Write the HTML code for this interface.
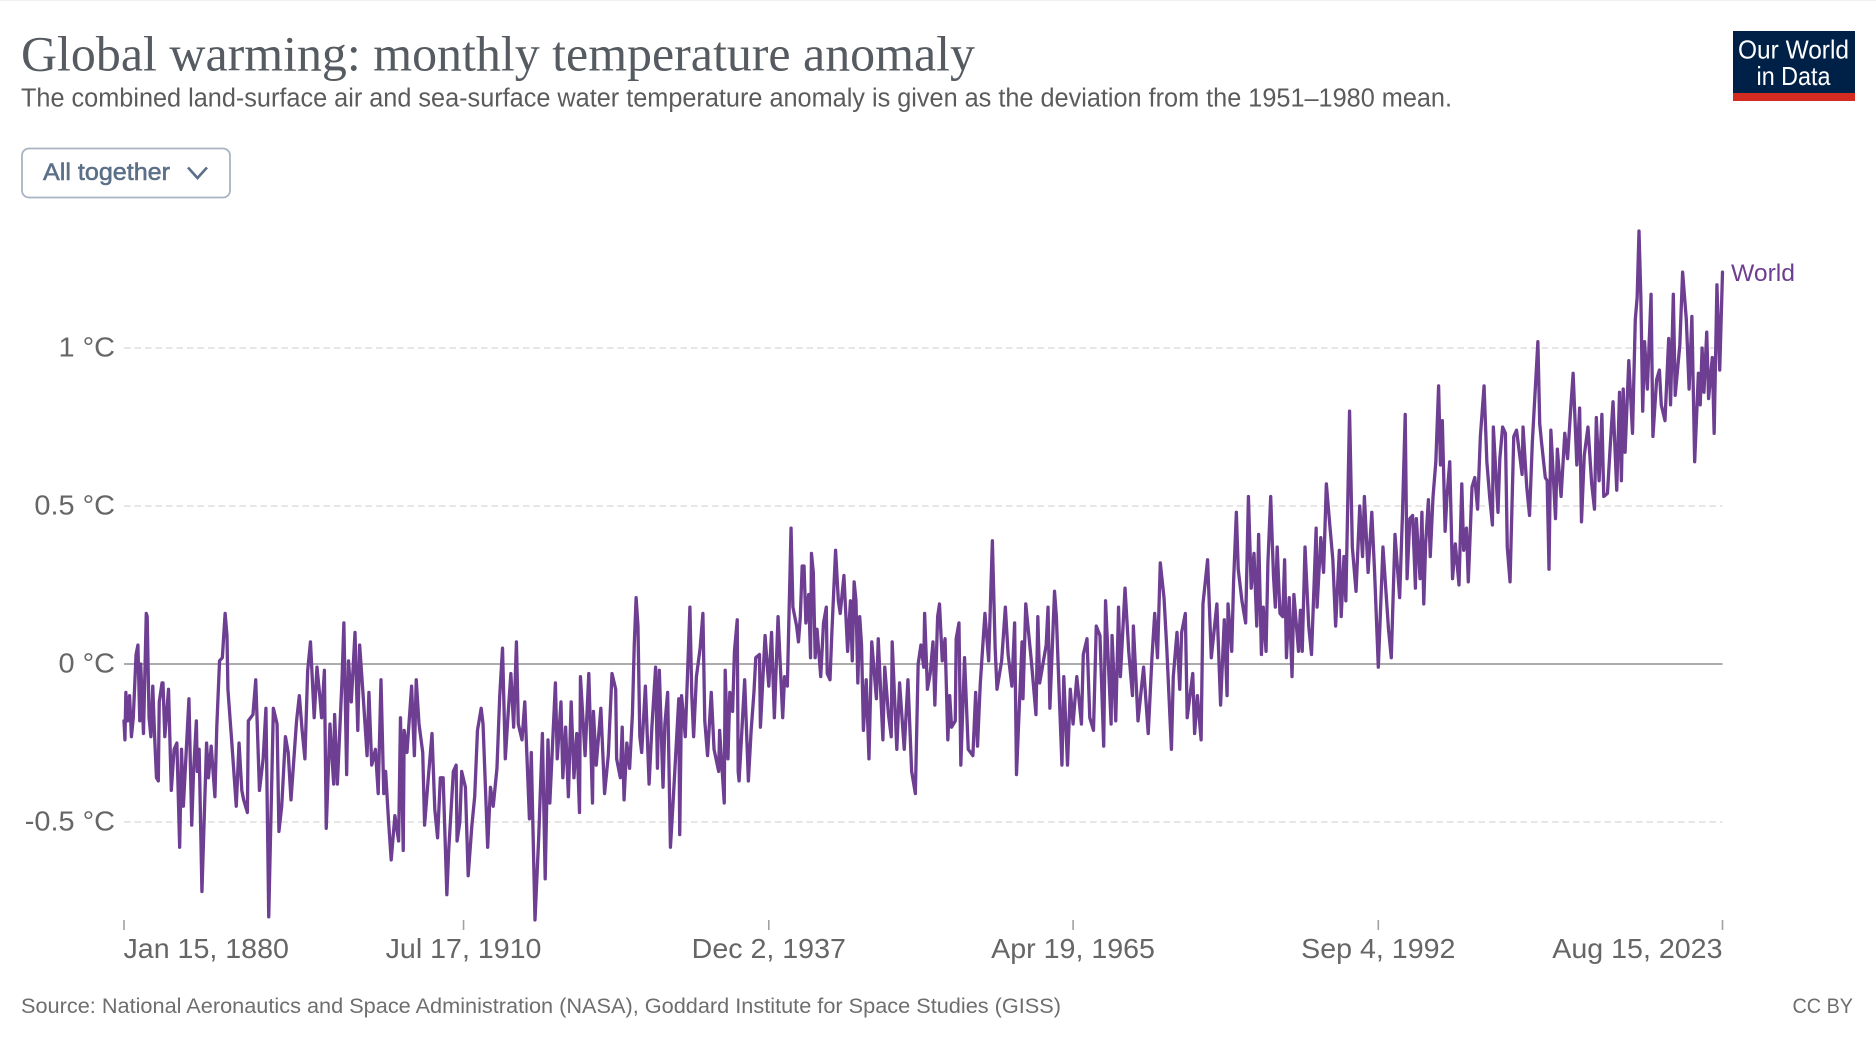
<!DOCTYPE html>
<html lang="en">
<head>
<meta charset="utf-8">
<title>Global warming: monthly temperature anomaly</title>
<style>
html,body{margin:0;padding:0;background:#fff;width:1876px;height:1040px;overflow:hidden}
svg{display:block}
text{font-family:"Liberation Sans",sans-serif}
</style>
</head>
<body>
<svg id="chart" xmlns="http://www.w3.org/2000/svg" width="1876" height="1040" viewBox="0 0 1876 1040">
  <rect x="0" y="0" width="1876" height="1040" fill="#ffffff"/>
  <rect x="0" y="0" width="1876" height="1" fill="#f0f0f0"/>
  <text x="21" y="70.5" font-size="50" fill="#555b60" style='font-family:"Liberation Serif",serif' textLength="954" lengthAdjust="spacingAndGlyphs">Global warming: monthly temperature anomaly</text>
  <text x="21" y="106.5" font-size="25.5" fill="#5b5b5b" textLength="1431" lengthAdjust="spacingAndGlyphs">The combined land-surface air and sea-surface water temperature anomaly is given as the deviation from the 1951–1980 mean.</text>
  <g>
    <rect x="22" y="148.5" width="208" height="49" rx="7" fill="#ffffff" stroke="#a8b4c2" stroke-width="1.8"/>
    <text x="43" y="180" font-size="24.5" font-weight="400" fill="#5b7088" stroke="#5b7088" stroke-width="0.55" textLength="127" lengthAdjust="spacingAndGlyphs">All together</text>
    <path d="M188 167.5 L197.5 178 L207 167.5" fill="none" stroke="#5b7088" stroke-width="2.6"/>
  </g>
  <g>
    <rect x="1733" y="31" width="122" height="62" fill="#002147"/>
    <rect x="1733" y="93" width="122" height="8" fill="#d42b21"/>
    <text x="1738" y="58.5" font-size="26" fill="#ffffff" textLength="111" lengthAdjust="spacingAndGlyphs">Our World</text>
    <text x="1756.5" y="85" font-size="26" fill="#ffffff" textLength="74" lengthAdjust="spacingAndGlyphs">in Data</text>
  </g>
  <g id="grid-layer"></g>
  <g id="y-label-layer"></g>
  <g id="x-axis-layer"></g>
  <g id="series-layer"></g>
  <text x="21" y="1013" font-size="21.5" fill="#6e6e6e" textLength="1040" lengthAdjust="spacingAndGlyphs">Source: National Aeronautics and Space Administration (NASA), Goddard Institute for Space Studies (GISS)</text>
  <text x="1792.5" y="1013" font-size="21.5" fill="#6e6e6e" textLength="60.5" lengthAdjust="spacingAndGlyphs">CC BY</text>
</svg>
<script>
const months = [
0,1,2,4,6,8,10,13,15,17,18,21,
24,25,27,29,31,33,35,37,38,41,42,44,
48,51,54,57,60,62,64,67,70,73,75,78,
79,81,84,89,91,94,98,100,103,106,109,111,
112,116,121,124,127,129,133,134,139,142,146,150,
153,156,161,165,167,170,174,177,180,186,189,192,
195,198,201,205,208,211,213,216,218,222,226,227,
230,235,237,240,242,245,249,252,254,258,262,264,
267,271,274,277,280,282,285,288,292,296,298,301,
302,305,310,313,315,318,322,324,328,332,335,338,
341,344,348,350,355,358,359,362,364,368,371,375,
378,381,385,387,392,395,398,402,405,408,411,414,
417,420,423,425,429,432,437,439,443,447,451,454,
457,459,465,467,471,473,476,479,482,485,488,491,
492,497,501,505,506,509,514,518,522,526,530,531,
535,537,539,542,545,548,550,552,554,556,558,562,
566,569,573,575,577,581,583,586,589,592,598,599,
601,605,610,612,614,617,621,624,626,629,633,636,
641,642,647,648,651,653,656,658,661,662,663,666,
669,673,676,679,681,685,686,691,695,698,701,705,
710,712,715,719,721,725,727,729,731,733,735,738,
740,741,743,745,747,751,754,757,758,761,763,765,
767,770,772,776,780,783,785,787,789,791,793,795,
797,800,803,806,811,813,818,820,824,827,828,833,
836,841,845,849,853,856,859,862,863,866,869,872,
874,877,879,882,885,888,890,892,896,897,900,902,
906,910,915,918,920,923,928,932,936,939,941,946,
950,953,957,960,962,968,969,972,978,983,985,987,
994,996,998,1003,1005,1008,1011,1013,1017,1020,1023,1027,
1032,1034,1038,1041,1045,1048,1052,1056,1058,1064,1065,1069,
1072,1074,1079,1083,1087,1088,1093,1099,1104,1108,1111,1114,
1117,1121,1124,1129,1131,1135,1138,1140,1144,1146,1152,1154,
1157,1161,1163,1168,1172,1178,1182,1186,1189,1190,1194,1196,
1199,1201,1205,1209,1212,1215,1218,1221,1223,1226,1228,1231,
1233,1236,1239,1241,1243,1246,1249,1251,1253,1256,1259,1261,
1266,1268,1270,1273,1277,1280,1285,1286,1290,1293,1296,1300,
1303,1306,1310,1312,1315,1317,1321,1324,1328,1332,1335,1337,
1341,1345,1348,1352,1357,1363,1366,1370,1375,1378,1381,1383,
1386,1389,1392,1393,1397,1399,1401,1403,1406,1408,1411,1414,
1417,1419,1421,1424,1426,1429,1432,1435,1439,1442,1444,1447,
1449,1453,1456,1459,1462,1466,1469,1472,1475,1476,1481,1483,
1486,1489,1491,1494,1498,1501,1507,1508,1512,1515,1518,1524,
1526,1528,1532,1534,1536,1538,1543,1545,1549,1553,1556,1559,
1562,1566,1569,1571,1574,1578,1582,1585,1587,1590,1593,1595,
1599,1602,1605,1609,1612,1614,1616,1618,1622,1626,1629,1631,
1633,1635,1637,1639,1642,1646,1648,1652,1655,1657,1661,1665,
1667,1670,1672,1677,1680,1684,1687,1690,1693,1697,1699,1701,
1703,1706,1708,1712,1714,1717,1720,1723
];
const anomaly = [
-.18,-.24,-.09,-.18,-.10,-.23,-.17,.03,.06,-.18,.00,-.22,
.16,.15,-.17,-.23,-.07,-.23,-.36,-.37,-.12,-.06,-.06,-.23,
-.08,-.40,-.27,-.25,-.58,-.27,-.45,-.28,-.11,-.51,-.34,-.18,
-.34,-.27,-.72,-.25,-.36,-.26,-.42,-.20,.01,.02,.16,.09,
-.08,-.24,-.45,-.25,-.40,-.43,-.47,-.18,-.16,-.05,-.40,-.30,
-.14,-.80,-.14,-.19,-.53,-.45,-.23,-.28,-.43,-.18,-.10,-.21,
-.30,-.02,.07,-.17,-.01,-.10,-.17,-.02,-.52,-.19,-.38,-.16,
-.38,-.05,.13,-.35,.01,-.12,.10,-.21,.06,-.11,-.29,-.09,
-.32,-.27,-.41,-.05,-.41,-.34,-.49,-.62,-.48,-.56,-.17,-.59,
-.21,-.28,-.07,-.29,-.05,-.19,-.28,-.51,-.36,-.22,-.46,-.55,
-.36,-.36,-.73,-.59,-.34,-.32,-.56,-.50,-.34,-.39,-.67,-.51,
-.42,-.21,-.14,-.19,-.58,-.39,-.45,-.33,-.10,.05,-.30,-.16,
-.03,-.20,.07,-.19,-.24,-.12,-.49,-.28,-.81,-.55,-.22,-.68,
-.24,-.44,-.06,-.30,-.12,-.36,-.20,-.42,-.12,-.36,-.22,-.47,
-.04,-.29,-.03,-.44,-.15,-.32,-.14,-.41,-.29,-.03,-.08,-.30,
-.36,-.20,-.43,-.25,-.33,-.16,.06,.21,.12,-.23,-.28,-.07,
-.38,-.20,-.01,-.33,-.02,-.39,-.19,-.09,-.58,-.43,-.11,-.54,
-.10,-.23,.18,-.10,-.23,-.04,.05,.16,-.18,-.29,-.09,-.27,
-.34,-.21,-.44,-.02,-.30,-.09,-.15,.04,.14,-.34,-.37,-.21,
-.05,-.37,-.21,-.09,.02,.03,-.20,.09,-.07,.10,-.17,.15,
-.17,-.04,-.07,.43,.18,.12,.07,.15,.31,.31,.13,.22,
.02,.35,.29,.02,.11,-.04,.13,.18,-.03,-.05,.10,.23,
.36,.20,.16,.28,.04,.20,.01,.26,.20,-.06,.15,.06,
-.21,-.05,-.30,.07,-.11,.08,-.24,-.01,-.16,-.23,.07,-.27,
-.06,-.27,-.05,-.34,-.41,.00,.06,-.01,.16,-.08,-.03,.07,
-.13,.15,.19,.01,.08,-.24,-.10,-.20,-.18,.08,.13,-.32,
.02,-.27,-.29,-.09,-.26,-.06,.16,.01,.39,.05,-.08,.01,
.18,.03,-.07,.13,-.35,.07,-.11,.19,.01,-.16,.15,-.06,
.06,.18,-.14,.23,.15,-.09,-.32,-.04,-.32,-.08,-.19,-.04,
-.19,.03,.08,-.17,-.21,.12,.09,-.26,.20,-.19,.09,-.18,
.18,-.04,.24,.04,-.10,.12,-.18,-.01,-.22,.02,.16,.02,
.32,.21,.05,-.27,-.04,.10,-.08,.10,.16,-.17,-.03,-.22,
-.10,-.24,.19,.33,.02,.19,-.13,.14,-.10,.19,.04,.26,
.48,.30,.20,.13,.53,.24,.35,.12,.41,.03,.18,.04,
.32,.53,.28,.18,.37,.16,.15,.33,.02,.21,-.04,.22,
.04,.17,.04,.37,.12,.03,.43,.18,.40,.29,.57,.43,
.33,.12,.36,.15,.34,.20,.80,.37,.23,.50,.34,.53,
.29,.48,.29,-.01,.37,.11,.02,.41,.21,.47,.79,.27,
.46,.47,.24,.46,.27,.48,.19,.38,.52,.34,.53,.64,
.88,.63,.77,.42,.53,.64,.27,.38,.25,.57,.36,.43,
.26,.56,.59,.49,.72,.88,.64,.53,.44,.75,.48,.65,
.75,.73,.37,.26,.72,.74,.60,.75,.56,.47,.70,1.02,
.76,.70,.59,.58,.30,.74,.46,.68,.53,.73,.65,.79,
.92,.63,.81,.45,.66,.75,.57,.49,.78,.58,.79,.53,
.54,.69,.83,.55,.86,.58,.87,.67,.96,.73,1.09,1.16,
1.37,1.16,.80,1.02,.87,1.17,.72,.90,.93,.82,.77,1.03,
.82,1.17,.85,1.01,1.24,1.09,.87,1.10,.64,.92,.82,1.00,
.86,1.05,.84,.97,.73,1.20,.93,1.24
];
const seriesName = "World";
const yTickValues = [-0.5, 0, 0.5, 1];
const yTickLabels = ["-0.5 °C", "0 °C", "0.5 °C", "1 °C"];
const xTickMonths = [0, 366, 695, 1023, 1352, 1723];
const xTickLabels = ["Jan 15, 1880", "Jul 17, 1910", "Dec 2, 1937", "Apr 19, 1965", "Sep 4, 1992", "Aug 15, 2023"];

const plotLeft = 124, plotRight = 1722.5, zeroY = 664, pxPerDegree = 316, monthSpan = 1723;
function xScale(m) { return plotLeft + (m / monthSpan) * (plotRight - plotLeft); }
function yScale(v) { return zeroY - v * pxPerDegree; }
const NS = "http://www.w3.org/2000/svg";
function make(tag, attrs, parent, text) {
  const el = document.createElementNS(NS, tag);
  for (const k in attrs) el.setAttribute(k, attrs[k]);
  if (text !== undefined) el.textContent = text;
  parent.appendChild(el);
  return el;
}
function widen(el, factor) {
  const w = el.getComputedTextLength() * factor;
  el.setAttribute("textLength", w.toFixed(1));
  el.setAttribute("lengthAdjust", "spacingAndGlyphs");
}

const gridLayer = document.getElementById("grid-layer");
const yLabelLayer = document.getElementById("y-label-layer");
yTickValues.forEach(function (v, i) {
  const isZero = v === 0;
  const line = make("line", {
    x1: plotLeft, x2: plotRight, y1: yScale(v), y2: yScale(v),
    stroke: isZero ? "#a1a1a1" : "#dddddd",
    "stroke-width": isZero ? 1.8 : 1.5,
    "stroke-dasharray": isZero ? "none" : "6.5 4"
  }, gridLayer);
  
  
  const label = make("text", {
    x: 115, y: yScale(v) + 8.5, "text-anchor": "end", "font-size": 27.5, fill: "#666666"
  }, yLabelLayer, yTickLabels[i]);
  
  
  widen(label, 1.05);
});

const xAxisLayer = document.getElementById("x-axis-layer");
xTickMonths.forEach(function (m, i) {
  const px = xScale(m);
  const tick = make("line", {
    x1: px, x2: px, y1: 920, y2: 930, stroke: "#a1a1a1", "stroke-width": 1.6
  }, xAxisLayer);
  
  
  const first = i === 0, last = i === xTickMonths.length - 1;
  const label = make("text", {
    x: first ? px - 0.5 : px,
    y: 958,
    "text-anchor": first ? "start" : (last ? "end" : "middle"),
    "font-size": 27.5,
    fill: "#666666"
  }, xAxisLayer, xTickLabels[i]);
  
  
  widen(label, 1.04);
});

const seriesLayer = document.getElementById("series-layer");
const pathData = months.map(function (m, i) {
  return (i ? "L" : "M") + xScale(m).toFixed(2) + " " + yScale(anomaly[i]).toFixed(2);
}).join(" ");
const line = make("path", {
  d: pathData, fill: "none", stroke: "#6d3e91", "stroke-width": 3.3,
  "stroke-linejoin": "round", "stroke-linecap": "round"
}, seriesLayer);


const lastIndex = months.length - 1;
const endLabel = make("text", {
  x: xScale(months[lastIndex]) + 8.5,
  y: yScale(anomaly[lastIndex]) + 8.7,
  "font-size": 24.5,
  fill: "#6d3e91",
  textLength: 64,
  lengthAdjust: "spacingAndGlyphs"
}, seriesLayer, seriesName);


</script>
</body>
</html>
